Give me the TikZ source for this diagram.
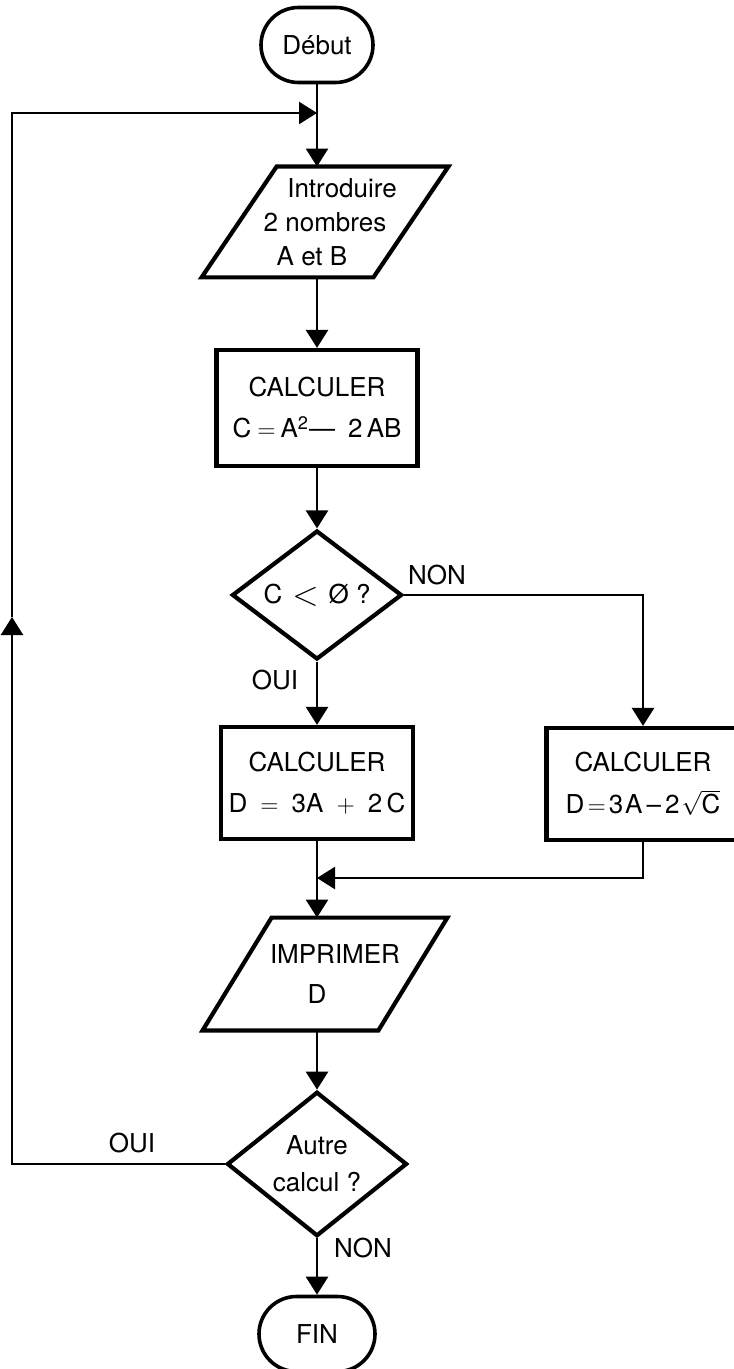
\documentclass[tikz,border=0pt]{standalone}
\usepackage{fontspec}
\setmainfont{TeX Gyre Heros}
\usetikzlibrary{arrows.meta,shapes.geometric,shapes.misc}

\newcommand\chartfont{\fontsize{13}{15}\selectfont}
% a larger "less than" sign for the test box
\newcommand\bigless{\raisebox{-0.8pt}{\fontsize{17}{17}\selectfont$<$}}
% slanted input/output frame drawn around an invisible slot node
\newcommand\slantframe[2]{%
  \draw[frame] ([xshift=#2]#1.north west) -- ([xshift=#2]#1.north east)
    -- ([xshift=-#2]#1.south east) -- ([xshift=-#2]#1.south west) -- cycle;}

\begin{document}
\begin{tikzpicture}[x=0.5pt,y=-0.5pt,
  every node/.style={font=\chartfont, text=black},
  terminal/.style={rounded rectangle, draw, line width=1.8pt, inner sep=0pt,
    minimum height=37.5pt},
  procbox/.style={rectangle, draw, line width=2.1pt, inner sep=0pt, align=center,
    minimum height=56pt},
  decision/.style={diamond, draw, line width=2.1pt, inner sep=0pt, align=center},
  slot/.style={rectangle, inner sep=0pt, align=center},
  frame/.style={line width=2.1pt, line join=miter},
  link/.style={line width=1.25pt},
  flow/.style={line width=1.25pt, -{Triangle[length=9pt,width=11pt]}},
  tag/.style={inner sep=0pt}]

\useasboundingbox (0,0) rectangle (733,1369);

% ---- nodes ----
\node[terminal, minimum width=56pt] (start) at (317,45) {Début};

\node[slot, minimum width=85.5pt, minimum height=55pt] (inp) at (325,222)
  {\hspace*{17pt}Introduire\\[2pt]2 nombres\hspace*{4pt}\\[2pt]A et B\hspace*{13pt}};
\slantframe{inp}{18.75pt}

\node[procbox, minimum width=100.5pt, minimum height=58pt] (calcC) at (317,408)
  {CALCULER\\[5.5pt]C\hspace{3pt}$=$\hspace{2.5pt}A\textsuperscript{2}—\enspace2\,AB};

\node[decision, minimum width=85pt, minimum height=58pt] (testC) at (317,595)
  {C\hspace{5pt}\bigless\hspace{5pt}Ø ?};

\node[procbox, minimum width=96pt] (calcA) at (317,783)
  {CALCULER\\[5.5pt]D\enspace$=$\enspace3A\enspace$+$\enspace2\,C};

\node[procbox, minimum width=96.5pt] (calcB) at (643,784)
  {CALCULER\\[6pt]D\hspace{1.5pt}$=$\hspace{1.5pt}3\hspace{1pt}A\hspace{2pt}–\hspace{2pt}2\hspace{1pt}$\sqrt{\mbox{C}}$};

\node[slot, minimum width=87.5pt, minimum height=56pt] (out) at (325,974)
  {\hspace*{10pt}IMPRIMER\\[5pt]D\hspace*{8pt}};
\slantframe{out}{17.25pt}

\node[decision, minimum width=90pt, minimum height=56pt] (again) at (317,1164)
  {Autre\\[3.5pt]calcul ?};

\node[terminal, minimum width=58pt] (fin) at (317,1334) {FIN};

% ---- branch labels ----
\node[tag] (nonC) at (437,575) {NON};
\node[tag] (ouiC) at (275,680) {OUI};
\node[tag] (ouiR) at (132,1143) {OUI};
\node[tag] (nonR) at (363,1248) {NON};

% ---- connector waypoints ----
\coordinate (join) at (317,113);
\coordinate (upmark) at (12,617);
\coordinate (merge) at (317,878);

% ---- connectors ----
\draw[link] (start.south) -- (join);
\draw[flow] (join) -- (join |- inp.north);
\draw[flow] (inp.south -| calcC.north) -- (calcC.north);
\draw[flow] (calcC.south) -- (testC.north);
\draw[flow] (testC.south) -- (calcA.north);
\draw[flow] (testC.east) -| (calcB.north);
\draw[link] (calcA.south) -- (merge);
\draw[flow] (calcB.south) |- (merge);
\draw[flow] (merge) -- (merge |- out.north);
\draw[flow] (out.south -| again.north) -- (again.north);
\draw[flow] (again.south) -- (fin.north);
\draw[flow] (again.west) -| (upmark);
\draw[flow] (upmark) |- (join);
\end{tikzpicture}
\end{document}
